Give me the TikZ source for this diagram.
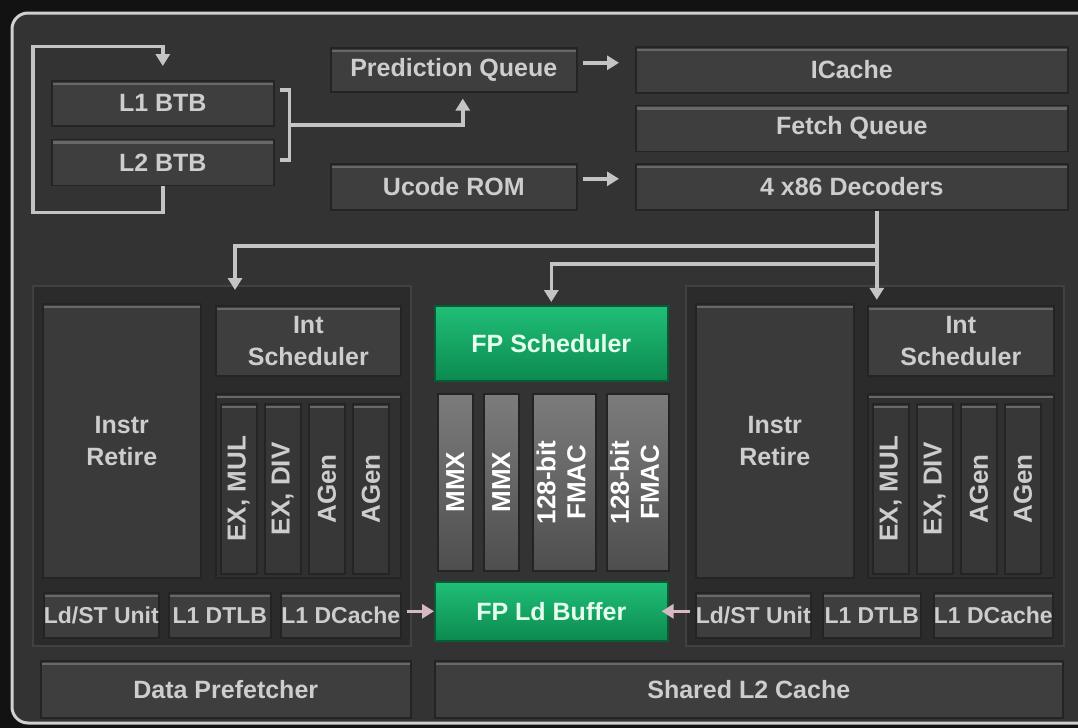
\documentclass[tikz,border=0pt]{standalone}
\usepackage{fontspec}
\setmainfont{Liberation Sans}
\usepackage{xcolor}
\usetikzlibrary{arrows.meta,positioning}

\definecolor{pageblk}{HTML}{121212}
\definecolor{panelbg}{HTML}{333333}
\definecolor{panelrim}{HTML}{D0D0D0}
\definecolor{clusterbg}{HTML}{2B2B2B}
\definecolor{clusteredge}{HTML}{414141}
\definecolor{boxbg}{HTML}{3E3E3E}
\definecolor{retirebg}{HTML}{3A3A3A}
\definecolor{subbg}{HTML}{303030}
\definecolor{colbg}{HTML}{373737}
\definecolor{boxedge}{HTML}{242424}
\definecolor{boxhi}{HTML}{686868}
\definecolor{labelgray}{HTML}{CDCDCD}
\definecolor{fptop}{HTML}{20BF78}
\definecolor{fpbot}{HTML}{0C8A4F}
\definecolor{fpedge}{HTML}{0A5A35}
\definecolor{fptext}{HTML}{E4FFEE}
\definecolor{mmxtop}{HTML}{7C7C7C}
\definecolor{mmxbot}{HTML}{4E4E4E}
\definecolor{wire}{HTML}{C4C4C4}
\definecolor{ldwire}{HTML}{D6B9C2}

\begin{document}
\begin{tikzpicture}[
  x=0.5pt,y=-0.5pt,
  font=\bfseries\fontsize{12.5}{16}\selectfont,
  dims/.style 2 args={minimum width=#1,minimum height=#2},
  blk/.style={draw=boxedge,line width=0.8pt,fill=boxbg,text=labelgray,anchor=north west,inner sep=0pt,align=center,
    path picture={\draw[boxhi,line width=1.3pt] ([yshift=-1.5pt]path picture bounding box.north west) -- ([yshift=-1.5pt]path picture bounding box.north east);}},
  small/.style={font=\bfseries\fontsize{11.5}{16}\selectfont},
  cluster/.style={draw=clusteredge,line width=1pt,fill=clusterbg,anchor=north west,inner sep=0pt},
  sub/.style={blk,fill=subbg},
  xcol/.style={blk,fill=colbg,dims={18pt}{85pt},font=\bfseries\fontsize{13}{15}\selectfont},
  grn/.style={draw=fpedge,line width=0.8pt,top color=fptop,bottom color=fpbot,text=fptext,anchor=north west,inner sep=0pt,align=center},
  mmx/.style={draw=boxedge,line width=0.8pt,top color=mmxtop,bottom color=mmxbot,text=white,anchor=north west,inner sep=0pt,
    font=\bfseries\fontsize{13}{15}\selectfont},
  wire/.style={draw=wire,line width=1.7pt,-{Triangle[width=7pt,length=6pt]}},
  ldwire/.style={wire,draw=ldwire,fill=ldwire}
]
\useasboundingbox (0,0) rectangle (1078,728);
\fill[pageblk] (0,0) rectangle (1078,728);
\clip (0,0) rectangle (1078,728);
\draw[panelrim,line width=1.5pt,fill=panelbg,rounded corners=8pt] (12,13) rectangle (1110,723);

\node[blk,dims={111pt}{22.5pt}] (BTB1) at (51,80) {L1 BTB};
\node[blk,dims={111pt}{23pt},below=6pt of BTB1] (BTB2) {L2 BTB};
\node[blk,dims={123pt}{22pt}] (PQ) at (330,47) {Prediction Queue};
\node[blk,dims={123pt}{23pt}] (UROM) at (330,163) {Ucode ROM};
\node[blk,dims={216pt}{23pt}] (IC) at (635,46) {ICache};
\node[blk,dims={216pt}{23pt},below=5.5pt of IC] (FQ) {Fetch Queue};
\node[blk,dims={216pt}{23pt},below=5.5pt of FQ] (DEC) {4 x86 Decoders};

\node[cluster,dims={189pt}{180pt}] (CL) at (32,285) {};
\node[blk,fill=retirebg,dims={79pt}{137pt}] (IRL) at (42,303) {Instr\\Retire};
\node[blk,dims={92.5pt}{35pt}] (ISL) at (215,305) {Int\\Scheduler};
\node[sub,dims={92.5pt}{92pt}] (EXL) at (215,393) {};
\node[xcol] (EXL1) at (220,403) {\rotatebox{90}{EX, MUL}};
\node[xcol] (EXL2) at (264,403) {\rotatebox{90}{EX, DIV}};
\node[xcol] (EXL3) at (308,403) {\rotatebox{90}{AGen}};
\node[xcol] (EXL4) at (352,403) {\rotatebox{90}{AGen}};
\node[blk,small,dims={57.5pt}{22.5pt}] (LSL) at (43,592) {Ld/ST Unit};
\node[blk,small,dims={51pt}{22.5pt}] (DTL) at (168,592) {L1 DTLB};
\node[blk,small,dims={60pt}{22.5pt}] (DCL) at (280,592) {L1 DCache};
\node[blk,dims={185pt}{28.5pt}] (DPF) at (40,660) {Data Prefetcher};

\node[grn,dims={116.5pt}{37.5pt}] (FPS) at (434,305) {FP Scheduler};
\node[mmx,dims={17.5pt}{88.5pt}] (MMX1) at (437,393) {\rotatebox{90}{MMX}};
\node[mmx,dims={17.5pt}{88.5pt}] (MMX2) at (483,393) {\rotatebox{90}{MMX}};
\node[mmx,dims={31.5pt}{88.5pt}] (FMAC1) at (532,393) {\rotatebox{90}{\begin{tabular}{@{}c@{}}128-bit\\FMAC\end{tabular}}};
\node[mmx,dims={31pt}{88.5pt}] (FMAC2) at (606,393) {\rotatebox{90}{\begin{tabular}{@{}c@{}}128-bit\\FMAC\end{tabular}}};
\node[grn,dims={116.5pt}{29.5pt}] (FPLB) at (434,581) {FP Ld Buffer};
\node[blk,dims={314pt}{28.5pt}] (L2C) at (434,660) {Shared L2 Cache};

\node[cluster,dims={189pt}{180pt}] (CR) at (685,285) {};
\node[blk,fill=retirebg,dims={79pt}{137pt}] (IRR) at (695,303) {Instr\\Retire};
\node[blk,dims={93pt}{35pt}] (ISR) at (867,305) {Int\\Scheduler};
\node[sub,dims={93pt}{92pt}] (EXR) at (867,393) {};
\node[xcol] (EXR1) at (872,403) {\rotatebox{90}{EX, MUL}};
\node[xcol] (EXR2) at (916,403) {\rotatebox{90}{EX, DIV}};
\node[xcol] (EXR3) at (960,403) {\rotatebox{90}{AGen}};
\node[xcol] (EXR4) at (1004,403) {\rotatebox{90}{AGen}};
\node[blk,small,dims={57.5pt}{22.5pt}] (LSR) at (695,592) {Ld/ST Unit};
\node[blk,small,dims={49pt}{22.5pt}] (DTR) at (822,592) {L1 DTLB};
\node[blk,small,dims={59.5pt}{22.5pt}] (DCR) at (933,592) {L1 DCache};

\draw[wire] (BTB2.south) -- ++(0,26) -- ++(-130,0) -- ++(0,-166) -- ++(130,0) -- ([yshift=7pt]BTB1.north);
\draw[wire,-] ([shift={(5,10)}]BTB1.north east) -- ++(10,0) -- ++(0,70) -- ++(-10,0);
\coordinate (BRK) at ([shift={(15,45)}]BTB1.north east);
\draw[wire] (BRK) -| ([xshift=4.5pt,yshift=-3pt]PQ.south);
\draw[wire] ([shift={(5,-7)}]PQ.east) -- ([shift={(-16,-7)}]PQ.east -| IC.west);
\draw[wire] ([shift={(5,-8)}]UROM.east) -- ([shift={(-16,-8)}]UROM.east -| DEC.west);

\coordinate (TAP1) at ([shift={(25,35)}]DEC.south);
\coordinate (TAP2) at ([shift={(25,53)}]DEC.south);
\draw[wire] ([xshift=12.5pt]DEC.south) -- ++(0,89);
\draw[wire] (TAP1) -| ([shift={(20,-15)}]ISL.north west);
\draw[wire] (TAP2) -| ([shift={(0,-3)}]FPS.north);

\draw[ldwire,shorten <=2.5pt] (DCL.east |- FPLB.west) -- (FPLB.west);
\draw[ldwire,shorten <=2.5pt] (LSR.west |- FPLB.east) -- ([xshift=-3.5pt]FPLB.east);
\end{tikzpicture}
\end{document}
